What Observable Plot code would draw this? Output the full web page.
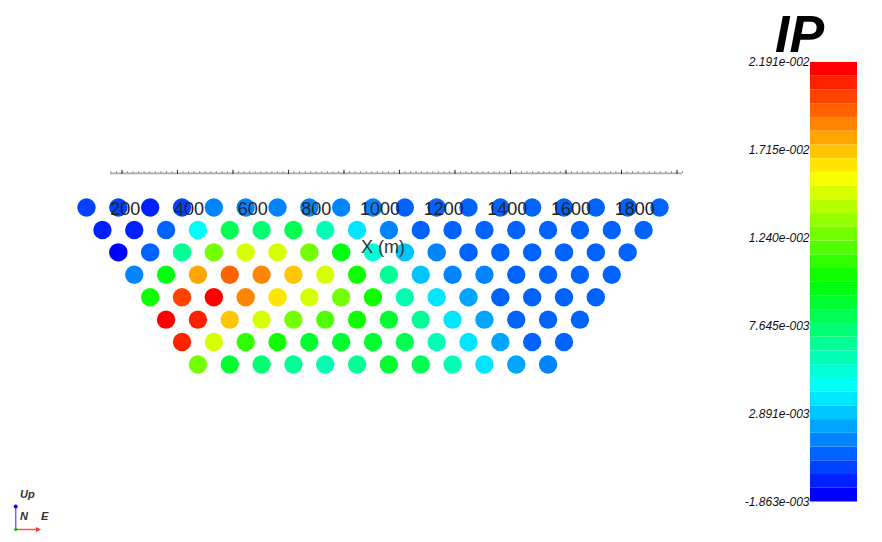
<!DOCTYPE html>
<html><head><meta charset="utf-8">
<script src="https://cdn.jsdelivr.net/npm/d3@7"></script>
<script src="https://cdn.jsdelivr.net/npm/@observablehq/plot@0.6"></script>
<style>
html,body{margin:0;padding:0;background:#fff;}
#root{position:relative;width:882px;height:542px;overflow:hidden;font-family:"Liberation Sans",Arial,sans-serif;}
#root > *{position:absolute;}
#title{left:775px;top:14px;font-size:52px;line-height:40px;height:40px;font-weight:bold;font-style:italic;color:#000;}
</style></head><body><div id="root"><div id="title">IP</div></div>
<script>
// ---- data (IP values, in units of 1e-3) ----
const levels = [1, 2, 3, 4, 5, 6, 7, 8];
const rowFirstX = [100, 150, 200, 250, 300, 350, 400, 450]; // metres
const stationStep = 100; // metres
const ipLevel1 = [0.00,0.00,-0.75,0.00,1.48,1.48,1.48,1.48,1.48,1.48,0.74,0.74,0.74,0.74,0.74,0.74,0.74,0.74,0.74];
const ipLevel2 = [-0.75,-0.75,0.74,4.45,8.17,7.43,8.17,6.22,3.60,1.48,0.74,0.74,0.74,0.74,0.74,0.74,0.74,0.74];
const ipLevel3 = [-1.49,0.74,6.69,12.63,14.86,14.54,12.88,9.66,5.27,2.97,1.48,0.74,0.74,0.74,0.74,0.74,0.74];
const ipLevel4 = [1.48,9.66,17.87,19.53,18.58,16.92,14.54,10.40,6.69,2.97,1.48,1.48,0.74,0.74,0.74,0.74];
const ipLevel5 = [10.40,20.06,21.43,18.58,16.35,14.54,12.88,10.40,6.22,3.71,1.94,0.74,0.74,0.74,0.74];
const ipLevel6 = [21.55,20.81,16.92,14.54,12.63,11.93,10.40,8.83,6.69,3.71,1.94,0.74,0.74,0.74];
const ipLevel7 = [20.72,14.54,11.45,10.40,8.60,8.83,8.83,8.12,6.22,3.71,1.94,0.74,0.74];
const ipLevel8 = [12.63,9.07,7.41,6.69,6.22,6.93,8.60,8.12,6.00,3.71,1.94,1.48];
const ipRows = [ipLevel1, ipLevel2, ipLevel3, ipLevel4, ipLevel5, ipLevel6, ipLevel7, ipLevel8];
const xTickLabels = [200, 400, 600, 800, 1000, 1200, 1400, 1600, 1800];
const ipMin = -1.863e-3, ipMax = 2.191e-2;
const barTicks = [-1.863e-3, 2.891e-3, 7.645e-3, 1.240e-2, 1.715e-2, 2.191e-2];

// ---- table ----
const table = [];
levels.forEach((lv, r) => ipRows[r].forEach((v, i) => table.push({x: rowFirstX[r] + i * stationStep, level: lv, ip: v * 1e-3})));

// ---- banded blue-to-red rainbow (32 colours) ----
const nBands = 32;
const bandColors = d3.range(nBands).map(k => d3.hsl(240 * (1 - k / (nBands - 1)), 1, 0.5).formatHex());
const bandStep = (ipMax - ipMin) / nBands;
const thresholds = d3.range(1, nBands).map(k => ipMin + k * bandStep);
const colorScale = {type: "threshold", domain: thresholds, range: bandColors};

// axis line drawn in perspective (farther back than the points)
const axisLevel = -0.52;
const toMain = a => 211.5 + 0.8717 * a;
const axisMinor = d3.range(-40, 2021, 20);
const axisMajor = d3.range(0, 2001, 200);

const root = document.getElementById("root");

const main = Plot.plot({
  width: 882, height: 542,
  marginTop: 0, marginRight: 0, marginBottom: 0, marginLeft: 0,
  style: {fontFamily: "Liberation Sans, Arial, sans-serif", background: "transparent"},
  x: {domain: [0, 2000], range: [54.17, 690.83], axis: null},
  y: {domain: [1, 8], range: [207, 364], axis: null},
  color: colorScale,
  marks: [
    Plot.ruleY([axisLevel], {x1: toMain(-41), x2: toMain(2020), stroke: "#aaa", strokeWidth: 1.6}),
    Plot.ruleX(axisMinor, {x: d => toMain(d), y1: axisLevel, y2: axisLevel - 0.08, stroke: "#777", strokeWidth: 0.8}),
    Plot.ruleX(axisMajor, {x: d => toMain(d), y1: axisLevel + 0.05, y2: axisLevel - 0.14, stroke: "#333", strokeWidth: 1}),
    Plot.dot(table, {x: "x", y: "level", r: 9.2, fill: "ip", stroke: "none"}),
    Plot.text(xTickLabels, {x: d => d, y: () => 1, text: d => String(d), dx: 7, dy: 2, fontSize: 18, fill: "#222"}),
    Plot.text(["X (m)"], {x: () => 1000, y: () => 2.5, dx: 10, dy: 6, fontSize: 18, fill: "#333"})
  ]
});
main.style.left = "0px"; main.style.top = "0px";
root.appendChild(main);

const fmt = v => {
  const s = v.toExponential(3);
  const [m, e] = s.split("e");
  const sign = e[0] === "-" ? "-" : "+";
  return m + "e" + sign + String(Math.abs(+e)).padStart(3, "0");
};
const bands = d3.range(nBands).map(k => ({y1: ipMin + k * bandStep, y2: ipMin + (k + 1) * bandStep, mid: ipMin + (k + 0.5) * bandStep}));

const bar = Plot.plot({
  width: 162, height: 542,
  marginTop: 0, marginRight: 25, marginBottom: 0, marginLeft: 90,
  style: {fontFamily: "Liberation Sans, Arial, sans-serif", background: "transparent"},
  y: {domain: [ipMin, ipMax], range: [501.5, 62], axis: null},
  color: colorScale,
  marks: [
    Plot.rect(bands, {y1: "y1", y2: "y2", fill: "mid"}),
    Plot.text(barTicks, {y: d => d, text: fmt, frameAnchor: "left", textAnchor: "end", dx: -1, fontSize: 12, fontStyle: "italic", fill: "#111"})
  ]
});
bar.style.left = "720px"; bar.style.top = "0px";
root.appendChild(bar);

// orientation glyph
const ns = "http://www.w3.org/2000/svg";
const og = document.createElementNS(ns, "svg");
og.setAttribute("width", 70); og.setAttribute("height", 60);
og.style.left = "0px"; og.style.top = "482px";
og.innerHTML = `
<line x1="15.7" y1="47.5" x2="15.7" y2="25" stroke="#6a6aff" stroke-width="1.5"/>
<circle cx="15.7" cy="24.5" r="2" fill="#0000ff"/>
<line x1="15.7" y1="47.5" x2="37" y2="47.5" stroke="#ff5050" stroke-width="1.5"/>
<path d="M36 45 L41 47.5 L36 50 Z" fill="#ff3030"/>
<circle cx="15.7" cy="47.5" r="1.6" fill="#00c000"/>
<text x="20" y="16" font-size="11" font-style="italic" font-weight="bold" fill="#333" font-family="Liberation Sans, Arial">Up</text>
<text x="20" y="38" font-size="11" font-style="italic" font-weight="bold" fill="#333" font-family="Liberation Sans, Arial">N</text>
<text x="41" y="38" font-size="11" font-style="italic" font-weight="bold" fill="#333" font-family="Liberation Sans, Arial">E</text>`;
root.appendChild(og);
</script></body></html>
